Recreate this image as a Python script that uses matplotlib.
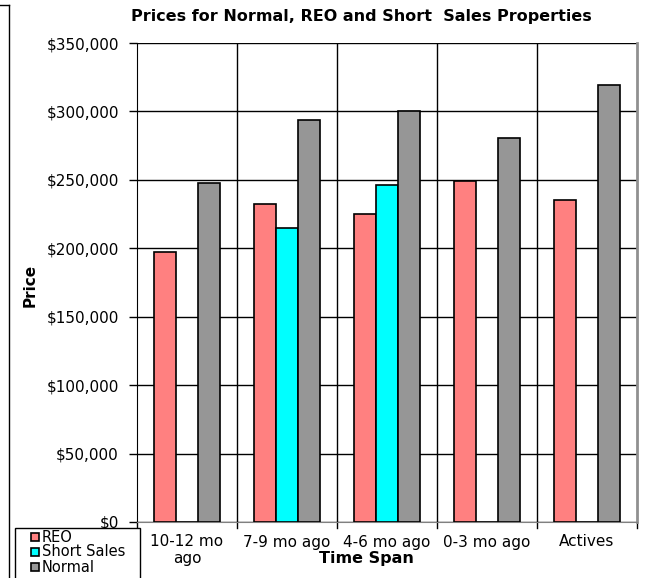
import numpy as np
import matplotlib.pyplot as plt
from matplotlib.lines import Line2D
from matplotlib.patches import Rectangle

plt.rcParams['font.family'] = ['DejaVu Sans']

categories = ['10-12 mo\nago', '7-9 mo ago', '4-6 mo ago', '0-3 mo ago', 'Actives']
reo = [197000, 232000, 225000, 249500, 235000]
short_sales = [0, 214500, 246500, 0, 0]
normal = [248000, 294000, 300000, 280500, 319500]
series = ['REO', 'Short Sales', 'Normal']
colors = ['#FF8080', '#00FFFF', '#969696']

fig = plt.figure(figsize=(6.61, 5.78), dpi=100)
ax = fig.add_axes([137/661, 1 - 522/578, 500/661, 479/578])

x = np.arange(len(categories))
w = 0.22
for i, (vals, c, lab) in enumerate(zip([reo, short_sales, normal], colors, series)):
    ax.bar(x + (i - 1) * w, vals, w, color=c, edgecolor='black', linewidth=1.2,
           label=lab, zorder=3)

ax.set_xlim(-0.5, len(categories) - 0.5)
ax.set_ylim(0, 350000)
yt = np.arange(0, 350001, 50000)
ax.set_yticks(yt)
ax.set_yticklabels(['$0' if v == 0 else '${:,.0f}'.format(v) for v in yt], fontsize=11)
ax.set_xticks(x)
ax.set_xticklabels(categories, fontsize=11, linespacing=1.15)
ax.tick_params(axis='x', length=0, pad=9)
ax.tick_params(axis='y', length=6, width=1, direction='out', pad=7)
ax.grid(axis='y', color='black', linewidth=1, zorder=0)
for b in np.arange(0.5, len(categories) - 1, 1):
    ax.axvline(b, color='black', linewidth=1, zorder=0)
for b in np.arange(-0.5, len(categories), 1):
    ax.plot([b, b], [0, -0.012], color='black', linewidth=1, clip_on=False,
            transform=ax.get_xaxis_transform())

ax.spines['top'].set_visible(False)
ax.spines['right'].set_color('#909090')
ax.spines['right'].set_linewidth(2)
ax.spines['left'].set_color('black')
ax.spines['bottom'].set_color('#808080')

fig.text(361/661, 1 - 17/578, 'Prices for Normal, REO and Short  Sales Properties',
         ha='center', va='center', fontsize=11.5, fontweight='bold')
fig.text(30/661, 1 - 285/578, 'Price', rotation=90, ha='center', va='center',
         fontsize=11, fontweight='bold')
fig.text(366/661, 1 - 558/578, 'Time Span', ha='center', va='center',
         fontsize=11.5, fontweight='bold')

# outer chart frame (left edge only visible)
fig.add_artist(Line2D([9/661, 9/661], [0, 1 - 5/578], color='black', linewidth=1))
fig.add_artist(Line2D([0, 9/661], [1 - 5/578, 1 - 5/578], color='black', linewidth=1))

# legend box, drawn by hand to match the Excel layout
fig.add_artist(Rectangle((15/661, -0.01), 125/661, 1 - 528/578 + 0.01,
                         transform=fig.transFigure, facecolor='white',
                         edgecolor='black', linewidth=1, zorder=5))
for k, (lab, c) in enumerate(zip(series, colors)):
    yc = 1 - (537 + 15 * k) / 578
    fig.add_artist(Rectangle((31/661, yc - 4/578), 8/661, 8/578,
                             transform=fig.transFigure, facecolor=c,
                             edgecolor='black', linewidth=1.2, zorder=6))
    fig.text(42/661, yc, lab, ha='left', va='center', fontsize=10.5, zorder=6)

fig.savefig('out.png', dpi=100)
